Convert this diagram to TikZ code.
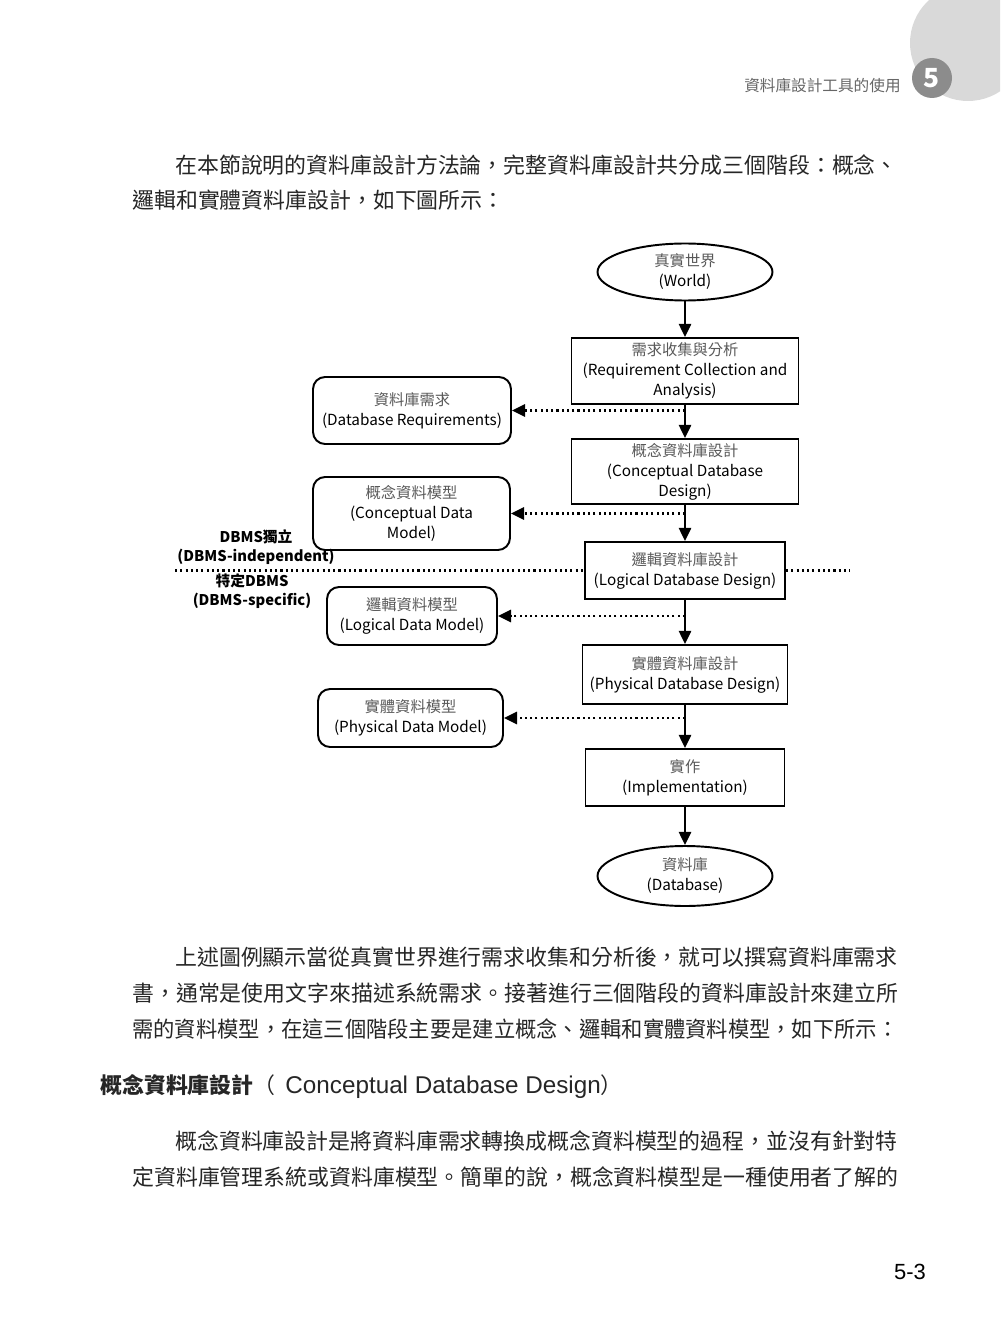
\documentclass[tikz,border=0pt]{standalone}
\usepackage{fontspec}
\setmainfont{Noto Sans CJK TC}
\newfontfamily\arialfont{Liberation Sans}
\usetikzlibrary{arrows.meta,shapes.geometric}

\newcommand\dgfont{\fontsize{8.7}{11.4}\selectfont}
\newcommand\lblfont{\bfseries\fontsize{8.4}{10.8}\selectfont}
\newcommand\bodyfont{\color{black!85}\fontsize{12.46}{14}\selectfont}
\newcommand\zh[1]{{\color{black!65}#1}}

\begin{document}
\begin{tikzpicture}[x=0.02cm,y=-0.02cm,
  termnode/.style={draw,line width=1.1pt,ellipse,inner sep=0pt,minimum width=3.5cm,minimum height=1.14cm,align=center,font=\dgfont},
  stagebox/.style={draw,line width=1.1pt,inner sep=0pt,align=center,font=\dgfont},
  modelbox/.style={draw,line width=1.1pt,rounded corners=0.24cm,inner sep=0pt,align=center,font=\dgfont},
  flowarrow/.style={line width=1.1pt,-{Triangle[width=7pt,length=7.5pt]}},
  dotarrow/.style={line width=1.2pt,dash pattern=on 1.2pt off 1.8pt,-{Triangle[width=7pt,length=7.5pt]}},
  dotline/.style={line width=1.2pt,dash pattern=on 1.2pt off 1.8pt},
  bodyline/.style={anchor=west,inner sep=0pt,font=\bodyfont}]
\useasboundingbox (0,0) rectangle (1000,1341);

% running head
\begin{scope}
\clip (0,0) rectangle (1000,1341);
\fill[black!15] (968,43) circle (1.16cm);
\end{scope}
\node[circle,fill=black!45,inner sep=0pt,minimum size=0.8cm,text=white,font=\bfseries\fontsize{15}{15}\selectfont] (chap) at (932,78) {5};
\node[anchor=east,inner sep=0pt,text=black!60,font=\fontsize{8.9}{10}\selectfont] (runhead) at (901,86) {資料庫設計工具的使用};

% text above
\node[bodyline] (par1a) at (175,165) {在本節說明的資料庫設計方法論，完整資料庫設計共分成三個階段：概念、};
\node[bodyline] (par1b) at (132,200) {邏輯和實體資料庫設計，如下圖所示：};

% main column
\node[termnode] (world) at (685,272) {\zh{真實世界}\\(World)};
\node[stagebox,minimum width=4.54cm,minimum height=1.32cm] (req) at (685,371) {\zh{需求收集與分析}\\(Requirement Collection and\\Analysis)};
\node[stagebox,minimum width=4.54cm,minimum height=1.3cm] (cdd) at (685,471.5) {\zh{概念資料庫設計}\\(Conceptual Database\\Design)};
\node[stagebox,minimum width=4.0cm,minimum height=1.14cm] (ldd) at (685,570.5) {\zh{邏輯資料庫設計}\\(Logical Database Design)};
\node[stagebox,minimum width=4.1cm,minimum height=1.18cm] (pdd) at (685,674.5) {\zh{實體資料庫設計}\\(Physical Database Design)};
\node[stagebox,minimum width=3.98cm,minimum height=1.14cm] (impl) at (685,777.5) {\zh{實作}\\(Implementation)};
\node[termnode,minimum height=1.2cm] (db) at (685,876) {\zh{資料庫}\\(Database)};

% models
\node[modelbox,minimum width=3.96cm,minimum height=1.34cm] (dbreq) at (412,410.5) {\zh{資料庫需求}\\(Database Requirements)};
\node[modelbox,minimum width=3.94cm,minimum height=1.46cm] (cdm) at (411.5,513.5) {\zh{概念資料模型}\\(Conceptual Data\\Model)};
\node[modelbox,minimum width=3.4cm,minimum height=1.16cm] (ldm) at (412,616) {\zh{邏輯資料模型}\\(Logical Data Model)};
\node[modelbox,minimum width=3.7cm,minimum height=1.16cm] (pdm) at (410.5,718) {\zh{實體資料模型}\\(Physical Data Model)};

\draw[flowarrow] (world) -- (req);
\draw[flowarrow] (req) -- (cdd);
\draw[flowarrow] (cdd) -- (ldd);
\draw[flowarrow] (ldd) -- (pdd);
\draw[flowarrow] (pdd) -- (impl);
\draw[flowarrow] (impl) -- (db);

\draw[dotarrow] (req.south |- dbreq.east) -- (dbreq.east);
\draw[dotarrow] (cdd.south |- cdm.east) -- (cdm.east);
\draw[dotarrow] (ldd.south |- ldm.east) -- (ldm.east);
\draw[dotarrow] (pdd.south |- pdm.east) -- (pdm.east);

% DBMS border
\coordinate (sepL) at (175,570.5);
\coordinate (sepR) at (850,570.5);
\draw[dotline] (sepL) -- (ldd.west);
\draw[dotline] (ldd.east) -- (sepR);
\node[font=\lblfont,align=center,inner sep=0pt] (indep) at (256,547) {DBMS獨立\\(DBMS-independent)};
\node[font=\lblfont,align=center,inner sep=0pt] (specific) at (252,591) {特定DBMS\\(DBMS-specific)};

% text below
\node[bodyline] (par2a) at (175,957) {上述圖例顯示當從真實世界進行需求收集和分析後，就可以撰寫資料庫需求};
\node[bodyline] (par2b) at (132,993) {書，通常是使用文字來描述系統需求。接著進行三個階段的資料庫設計來建立所};
\node[bodyline] (par2c) at (132,1029) {\scalebox{0.972}[1]{需的資料模型，在這三個階段主要是建立概念、邏輯和實體資料模型，如下所示：}};
\node[bodyline,font=\bfseries\bodyfont] (sechead) at (100,1087) {概念資料庫設計{\mdseries（\hspace{0.2cm}{\arialfont\fontsize{13.8}{15}\selectfont Conceptual Database Design}）}};
\node[bodyline] (par3a) at (175,1141) {概念資料庫設計是將資料庫需求轉換成概念資料模型的過程，並沒有針對特};
\node[bodyline] (par3b) at (132,1177) {定資料庫管理系統或資料庫模型。簡單的說，概念資料模型是一種使用者了解的};

\node[font=\arialfont\fontsize{12.5}{14}\selectfont] (pageno) at (910,1272) {5-3};
\end{tikzpicture}
\end{document}
